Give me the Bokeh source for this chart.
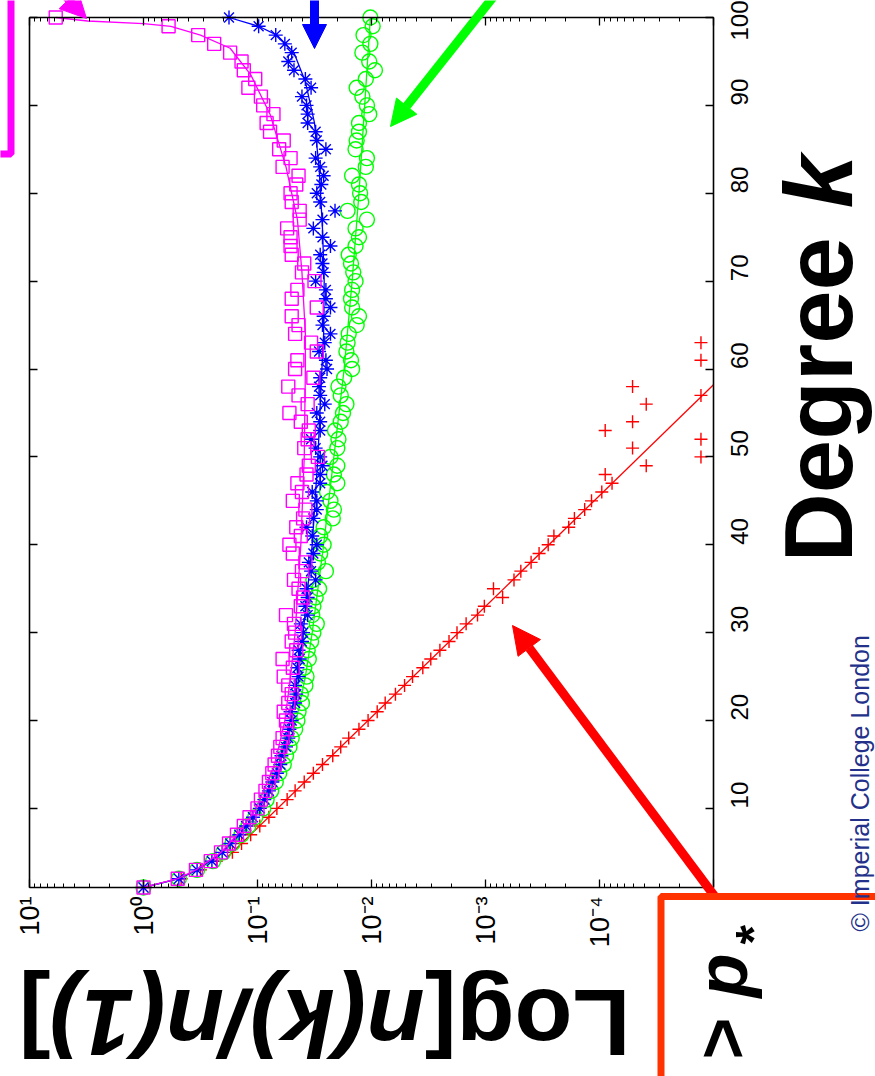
from math import pi

from bokeh.plotting import figure
from bokeh.models import (Range1d, LogAxis, LinearAxis, LogTicker, FixedTicker, Grid,
                          CustomJSTickFormatter, Label, Arrow, NormalHead, BoxAnnotation)
from bokeh.embed import file_html
from bokeh.resources import INLINE

# ---------------------------------------------------------------- data
# degree k and log10 of n(k)/n(1) for the three attachment mixtures
degree = list(range(1, 101))

green_log = [
    0.00, -0.31, -0.47, -0.61, -0.70, -0.78, -0.86, -0.92, -0.98, -1.05,
    -1.08, -1.12, -1.16, -1.19, -1.23, -1.25, -1.28, -1.30, -1.33, -1.35,
    -1.36, -1.39, -1.38, -1.42, -1.43, -1.41, -1.45, -1.44, -1.47, -1.49,
    -1.52, -1.48, -1.49, -1.51, -1.54, -1.49, -1.60, -1.53, -1.55, -1.58,
    -1.55, -1.58, -1.66, -1.67, -1.64, -1.61, -1.70, -1.67, -1.70, -1.64,
    -1.70, -1.71, -1.68, -1.73, -1.75, -1.78, -1.73, -1.71, -1.76, -1.83,
    -1.82, -1.78, -1.79, -1.80, -1.87, -1.89, -1.83, -1.82, -1.83, -1.86,
    -1.84, -1.82, -1.80, -1.86, -1.89, -1.86, -1.96, -1.79, -1.91, -1.90,
    -1.89, -1.83, -1.95, -1.96, -1.86, -1.87, -1.89, -1.89, -1.98, -1.96,
    -1.92, -1.87, -1.95, -2.03, -1.98, -1.92, -1.99, -1.93, -2.01, -1.99,
]

blue_log = [
    0.00, -0.31, -0.47, -0.60, -0.69, -0.76, -0.84, -0.90, -0.96, -1.02,
    -1.06, -1.10, -1.13, -1.17, -1.20, -1.21, -1.25, -1.27, -1.28, -1.30,
    -1.29, -1.33, -1.34, -1.33, -1.36, -1.35, -1.37, -1.36, -1.39, -1.40,
    -1.38, -1.44, -1.42, -1.44, -1.43, -1.51, -1.47, -1.45, -1.49, -1.52,
    -1.48, -1.43, -1.49, -1.52, -1.52, -1.48, -1.55, -1.55, -1.57, -1.55,
    -1.51, -1.47, -1.55, -1.55, -1.52, -1.59, -1.55, -1.54, -1.55, -1.61,
    -1.60, -1.54, -1.59, -1.64, -1.57, -1.58, -1.64, -1.60, -1.60, -1.51,
    -1.58, -1.57, -1.55, -1.64, -1.57, -1.49, -1.57, -1.68, -1.55, -1.52,
    -1.56, -1.58, -1.55, -1.51, -1.60, -1.52, -1.51, -1.44, -1.44, -1.43,
    -1.39, -1.47, -1.42, -1.32, -1.27, -1.30, -1.24, -1.16, -1.01, -0.75,
]

magenta_log = [
    0.00, -0.30, -0.46, -0.59, -0.68, -0.75, -0.82, -0.88, -0.93, -1.00,
    -1.03, -1.07, -1.10, -1.13, -1.15, -1.18, -1.20, -1.22, -1.26, -1.25,
    -1.23, -1.27, -1.30, -1.27, -1.23, -1.31, -1.22, -1.34, -1.30, -1.33,
    -1.32, -1.25, -1.38, -1.40, -1.36, -1.32, -1.39, -1.42, -1.31, -1.28,
    -1.38, -1.34, -1.40, -1.42, -1.31, -1.39, -1.35, -1.43, -1.45, -1.53,
    -1.41, -1.44, -1.45, -1.38, -1.28, -1.44, -1.36, -1.27, -1.49, -1.33,
    -1.35, -1.52, -1.47, -1.33, -1.36, -1.30, -1.52, -1.30, -1.35, -1.50,
    -1.39, -1.41, -1.30, -1.29, -1.29, -1.26, -1.37, -1.37, -1.30, -1.29,
    -1.34, -1.36, -1.22, -1.29, -1.19, -1.23, -1.11, -1.08, -1.14, -1.05,
    -1.03, -0.92, -0.98, -0.88, -0.86, -0.76, -0.62, -0.48, -0.22, 0.77,
]

# random attachment: exponential tail, sparse counts beyond k = 47
red_k = list(range(1, 48)) + [48, 49, 50, 51, 52, 53, 54, 56, 57, 58, 61, 63]
red_log = [
    0.00, -0.33, -0.50, -0.64, -0.78, -0.86, -0.94, -1.02, -1.10, -1.17,
    -1.26, -1.33, -1.41, -1.49, -1.57, -1.66, -1.73, -1.80, -1.89, -1.97,
    -2.05, -2.12, -2.21, -2.29, -2.36, -2.45, -2.52, -2.60, -2.68, -2.75,
    -2.83, -2.93, -2.99, -3.15, -3.07, -3.25, -3.31, -3.40, -3.47, -3.55,
    -3.60, -3.73, -3.78, -3.87, -3.93, -4.02, -4.11,
    -4.05, -4.41, -4.89, -4.29, -4.89, -4.05, -4.29, -4.41, -4.89, -4.29,
    -4.89, -4.89,
]

# fitted curves
red_fit_k = [4.5, 58.2]
red_fit_log = [-0.74, -5.0]
green_fit_k = [1, 2, 3, 5, 7, 10, 15, 20, 25, 30, 40, 50, 60, 70, 80, 90, 100]
green_fit_log = [0.0, -0.31, -0.48, -0.70, -0.86, -1.04, -1.22, -1.34, -1.42,
                 -1.48, -1.58, -1.67, -1.76, -1.83, -1.89, -1.94, -1.99]
blue_fit_k = [1, 2, 3, 5, 7, 10, 15, 20, 25, 30, 40, 50, 60, 64, 70, 76, 83,
              88, 92.7, 96, 98, 99, 100]
blue_fit_log = [0.0, -0.31, -0.47, -0.69, -0.84, -1.02, -1.19, -1.29, -1.35,
                -1.40, -1.48, -1.53, -1.565, -1.58, -1.585, -1.57, -1.54,
                -1.50, -1.42, -1.32, -1.17, -1.01, -0.75]
magenta_fit_k = [1, 2, 3, 5, 7, 10, 15, 20, 25, 30, 40, 50, 60, 64, 71, 77, 83,
                 89, 93.5, 96.5, 98, 99, 99.3, 99.6, 100]
magenta_fit_log = [0.0, -0.30, -0.46, -0.68, -0.82, -0.99, -1.15, -1.24, -1.29,
                   -1.33, -1.38, -1.41, -1.42, -1.42, -1.39, -1.35, -1.25,
                   -1.11, -0.94, -0.76, -0.50, -0.24, 0.0, 0.49, 0.77]

degree_ticks = [10, 20, 30, 40, 50, 60, 70, 80, 90, 100]
k_lo, k_hi = 1, 100          # degree axis extent
dec_hi, dec_lo = 1, -5       # decades spanned by the ratio axis


def lin(vals):
    return [10 ** v for v in vals]


# ---------------------------------------------------------------- figure
# The plotting frame fills the whole page so the call-outs around the box are
# not clipped; the four axes are pinned to the box edges with fixed_location.
W, H = 875, 1076
FL, FT, FR, FB = 29, 17, 713, 887      # box edges on the page
px_dec = (FR - FL) / (dec_hi - dec_lo)
px_k = (FB - FT) / (k_hi - k_lo)
x_range = Range1d(10 ** (dec_hi + FL / px_dec), 10 ** (dec_lo - (W - FR) / px_dec))
y_range = Range1d(k_lo - (H - FB) / px_k, k_hi + FT / px_k)

p = figure(width=W, height=H, output_backend="svg", toolbar_location=None,
           title=None, x_axis_type="log", x_range=x_range, y_range=y_range,
           x_axis_location=None, y_axis_location=None,
           min_border_left=0, min_border_top=0,
           min_border_right=0, min_border_bottom=0,
           background_fill_color="white", border_fill_color="white",
           outline_line_color=None)
for g in p.select(type=Grid):
    g.visible = False

sup_fmt = CustomJSTickFormatter(code="""
const sup = {"-": "\u207b", "0": "\u2070", "1": "\u00b9", "2": "\u00b2", "3": "\u00b3",
             "4": "\u2074", "5": "\u2075", "6": "\u2076", "7": "\u2077", "8": "\u2078", "9": "\u2079"};
const e = Math.round(Math.log10(tick));
return "10" + String(e).split("").map(c => sup[c]).join("");
""")
blank_fmt = CustomJSTickFormatter(code="return '';")


def style_axis(ax, size):
    ax.axis_line_color = "black"
    ax.axis_line_width = 1.6
    ax.major_tick_line_color = "black"
    ax.major_tick_line_width = 1.3
    ax.minor_tick_line_color = "black"
    ax.minor_tick_line_width = 1.0
    ax.major_tick_in = 8
    ax.major_tick_out = 0
    ax.minor_tick_in = 4
    ax.minor_tick_out = 0
    ax.major_label_text_font = "Liberation Sans"
    ax.major_label_text_color = "black"
    if size:
        ax.major_label_text_font_size = size
    else:
        ax.formatter = blank_fmt
        ax.major_label_text_font_size = "2px"
        ax.major_label_standoff = 0


ratio_bounds = (10 ** dec_lo, 10 ** dec_hi)
k_bounds = (k_lo, k_hi)

bottom = LogAxis(ticker=LogTicker(num_minor_ticks=10), formatter=sup_fmt,
                 fixed_location=k_lo, bounds=ratio_bounds)
bottom.major_label_orientation = pi / 2
bottom.major_label_standoff = 9
style_axis(bottom, "27px")
p.add_layout(bottom, "below")

top = LogAxis(ticker=LogTicker(num_minor_ticks=10), fixed_location=k_hi,
              bounds=ratio_bounds)
style_axis(top, None)
p.add_layout(top, "above")

right = LinearAxis(ticker=FixedTicker(ticks=degree_ticks, minor_ticks=[]),
                   fixed_location=10 ** dec_lo, bounds=k_bounds)
right.major_label_orientation = pi / 2
right.major_label_standoff = 26
style_axis(right, "24px")
p.add_layout(right, "right")

left = LinearAxis(ticker=FixedTicker(ticks=degree_ticks, minor_ticks=[]),
                  fixed_location=10 ** dec_hi, bounds=k_bounds)
style_axis(left, None)
p.add_layout(left, "left")

# ---------------------------------------------------------------- series
RED, GREEN, BLUE, MAGENTA = "#ff0000", "#00ff00", "#0000ff", "#ff00ff"

p.line(lin(red_fit_log), red_fit_k, line_color=RED, line_width=1.3)
p.scatter(lin(red_log), red_k, marker="cross", size=13,
          line_color=RED, line_width=1.4)

p.line(lin(green_fit_log), green_fit_k, line_color=GREEN, line_width=1.3)
p.scatter(lin(green_log), degree, marker="circle", size=15, fill_color=None,
          line_color=GREEN, line_width=1.4)

p.line(lin(blue_fit_log), blue_fit_k, line_color=BLUE, line_width=1.3)
p.scatter(lin(blue_log), degree, marker="asterisk", size=14,
          line_color=BLUE, line_width=1.4)

p.line(lin(magenta_fit_log), magenta_fit_k, line_color=MAGENTA, line_width=1.3)
p.scatter(lin(magenta_log), degree, marker="square", size=13, fill_color=None,
          line_color=MAGENTA, line_width=1.4)


# ---------------------------------------------------------------- overlays
def sx(px):
    return px


def sy(py):
    return H - py


def arrow(x0, y0, x1, y1, color, width, head):
    p.add_layout(Arrow(x_start=sx(x0), y_start=sy(y0), x_end=sx(x1), y_end=sy(y1),
                       start_units="screen", end_units="screen",
                       line_color=color, line_width=width,
                       end=NormalHead(size=head, fill_color=color,
                                      line_color=color, line_width=1)))


def box(x0, y0, x1, y1, color, width, fill):
    p.add_layout(BoxAnnotation(left=sx(x0), right=sx(x1), top=sy(y0), bottom=sy(y1),
                               left_units="screen", right_units="screen",
                               top_units="screen", bottom_units="screen",
                               fill_color="white", fill_alpha=1.0 if fill else 0.0,
                               line_color=color, line_width=width, line_alpha=1.0))


BASE_SHIFT = 0.36   # label anchor sits this far (in em) above the glyph baseline


def text(bx, by, s, size, angle, style="bold", color="black"):
    """Place a turned text with its baseline start at page point (bx, by)."""
    d = BASE_SHIFT * size
    if angle == pi:
        ax, ay = bx, by + d
    else:
        ax, ay = bx - d, by
    p.add_layout(Label(x=sx(ax), y=sy(ay), x_units="screen", y_units="screen",
                       text=s, angle=angle, text_font="Liberation Sans",
                       text_font_style=style, text_font_size=f"{size}px",
                       text_color=color, text_align="left",
                       text_baseline="alphabetic"))


# call-out arrows pointing at each curve
arrow(40, -30, 86, 18, MAGENTA, 8, 26)
arrow(314, -10, 314, 48, BLUE, 9, 24)
arrow(505, -19, 390, 126, GREEN, 9, 26)
arrow(730, 917, 512, 625, RED, 9, 28)

# boxes around the (cropped) captions
box(-200, -200, 10.5, 153.5, MAGENTA, 7, False)
box(660.5, 896, 1100, 1300, "#ff3300", 7, True)

# axis titles, drawn in the turned orientation of the page
text(853, 562, "Degree", 96, pi / 2)
text(853, 208, "k", 96, pi / 2, "bold italic")
text(630, 988, "Log[", 95, pi)
text(424, 988, "n(k)/n(1)", 95, pi, "bold italic")
text(50, 988, "]", 95, pi)

# caption inside the red box
text(747, 1059, ">", 72, pi / 2)
text(747, 997, "p", 72, pi / 2, "bold italic")
text(771, 944, "*", 50, pi / 2)

text(868, 931, "\u00a9 Imperial College London", 25, pi / 2, "normal", "#23318a")

open("out.html", "w").write(file_html(p, INLINE))
